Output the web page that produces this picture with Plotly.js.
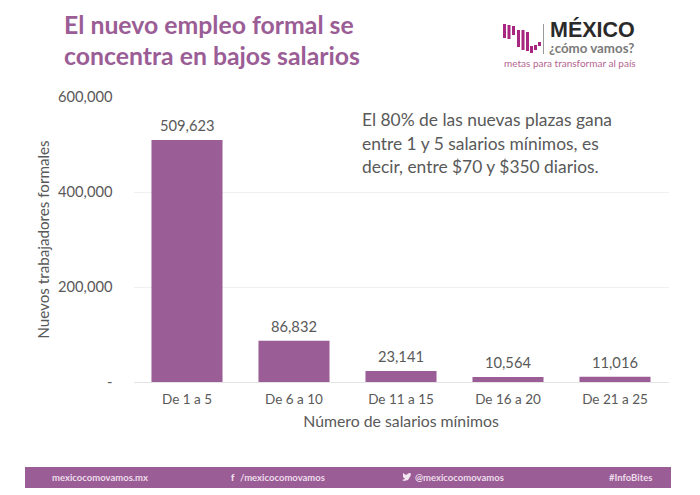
<!DOCTYPE html>
<html><head><meta charset="utf-8">
<script src="https://cdn.plot.ly/plotly-3.0.1.min.js"></script>
<style>html,body{margin:0;padding:0;background:#fff}#c{width:700px;height:495px}</style></head>
<body><div id="c"></div>
<script>
const categories = ["De 1 a 5","De 6 a 10","De 11 a 15","De 16 a 20","De 21 a 25"];
const workers = [509623,86832,23141,10564,11016];
const valueLabels = ["509,623","86,832","23,141","10,564","11,016"];
const yTicks = [0,200000,400000,600000];
const yTickLabels = ["-","200,000","400,000","600,000"];
const titleLines = [["El nuevo empleo formal se",25],["concentra en bajos salarios",55]];
const noteLines = [["El 80% de las nuevas plazas gana",119],["entre 1 y 5 salarios mínimos, es",143],["decir, entre $70 y $350 diarios.",167]];
const footerTexts = [["mexicocomovamos.mx",50],["/mexicocomovamos",238],["@mexicocomovamos",413],["#InfoBites",607]];
const logoBars = [[503,24,38],[507.5,25,39],[512,26,35],[517,30,47],[521.5,30,50],[526,32,51],[530,46,53],[534,45,50],[538,42,46]];

const W=700,H=495, purple="#9b5d95", grey="#595959", LATO="Lato, sans-serif";
const px=x=>x/W, py=y=>1-y/H;
const T=(text,x,y,size,color,weight,family)=>({text,x:px(x),y:py(y),xref:"paper",yref:"paper",showarrow:false,xanchor:"left",yanchor:"middle",align:"left",font:{family:family||LATO,size,color,weight:weight||400}});
const P=(pts)=>"M"+pts.map(p=>px(p[0])+" "+py(p[1])).join("L")+"Z";

const shapes=[
 {type:"rect",xref:"paper",yref:"paper",x0:px(25),x1:px(671),y0:py(467),y1:py(488),fillcolor:purple,line:{width:0},layer:"below"},
 {type:"line",xref:"paper",yref:"paper",x0:px(543.5),x1:px(543.5),y0:py(24),y1:py(54),line:{color:"#9a9a9a",width:1}},
 {type:"path",xref:"paper",yref:"paper",path:P([[403,473],[406,475],[409,473],[411,473.5],[410.5,476],[408,480],[404,481],[402,480],[405,479],[403,477]]),fillcolor:"#f3e6f1",line:{width:0}}
];
logoBars.forEach(b=>shapes.push({type:"rect",xref:"paper",yref:"paper",x0:px(b[0]),x1:px(b[0]+3),y0:py(b[1]),y1:py(b[2]),fillcolor:"#a8267f",line:{width:0}}));

const annotations=[
 T("MÉXICO",548,29,21.5,"#2a2a2a",700,"Liberation Sans, sans-serif"),
 T("¿cómo vamos?",547,48,13.3,"#7a7a7a",700),
 T("metas para transformar al país",502,63,10,"#b5658f"),
 T("f",229,477,9,"#f3e6f1",900)
];
titleLines.forEach(l=>annotations.push(T(l[0],62,l[1],24.8,purple,700)));
noteLines.forEach(l=>annotations.push(T(l[0],360,l[1],17.4,grey)));
footerTexts.forEach(f=>annotations.push(T(f[0],f[1],477,9.5,"#ecdcea",700)));
categories.forEach((c,i)=>annotations.push({text:valueLabels[i],x:c,y:workers[i],xref:"x",yref:"y",showarrow:false,xanchor:"center",yanchor:"middle",yshift:15,font:{family:LATO,size:14.7,color:grey}}));

Plotly.newPlot("c",[{
 type:"bar",x:categories,y:workers,marker:{color:purple,line:{width:0}},hoverinfo:"skip"
}],{
 width:W,height:H,margin:{l:0,r:0,t:0,b:0},paper_bgcolor:"#fff",plot_bgcolor:"#fff",showlegend:false,bargap:0.336,
 font:{family:LATO,color:grey},
 xaxis:{domain:[px(133.5),px(668.5)],anchor:"y",type:"category",showline:true,linecolor:"#e4e4e4",linewidth:1,showgrid:false,ticks:"",
  tickfont:{size:13.5,color:grey},ticklen:0,ticklabelstandoff:5,title:{text:"Número de salarios mínimos",font:{size:15.8,color:grey},standoff:9}},
 yaxis:{domain:[py(382),py(97)],anchor:"x",range:[0,600000],tickvals:yTicks,ticktext:yTickLabels,gridcolor:"#f0f0f0",gridwidth:1,zeroline:false,
  tickfont:{size:14.7,color:grey},ticks:"",ticklabelstandoff:20,title:{text:"Nuevos trabajadores formales",font:{size:15.2,color:grey},standoff:4}},
 shapes,annotations
},{displayModeBar:false,staticPlot:true});
</script></body></html>
